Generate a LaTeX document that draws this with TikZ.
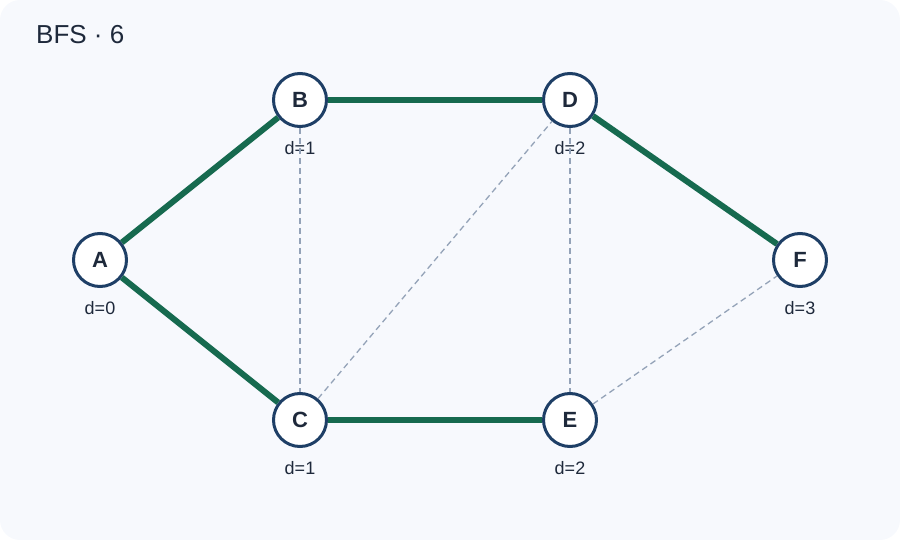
\documentclass[tikz,border=0pt]{standalone}
\usepackage{fontspec}
\setmainfont{Liberation Sans}
\definecolor{bgcol}{HTML}{F7F9FD}
\definecolor{ringcol}{HTML}{1E3F66}
\definecolor{inkcol}{HTML}{1E293B}
\definecolor{treecol}{HTML}{166A4F}
\definecolor{graycol}{HTML}{94A3B8}
\begin{document}
\begin{tikzpicture}[x=1pt,y=-1pt,
    vertex/.style={draw=ringcol, line width=3pt, fill=white, circle, minimum size=53pt, inner sep=0pt, text=inkcol, font=\fontsize{22}{26}\selectfont\bfseries},
    dlabel/.style={font=\fontsize{18}{21}\selectfont, text=inkcol, inner sep=0pt, label distance=13pt},
    treeedge/.style={draw=treecol, line width=6pt},
    otheredge/.style={draw=graycol, line width=1.3pt, dash pattern=on 6pt off 4pt}]
        \useasboundingbox (0,0) rectangle (900,540);
        \path[fill=bgcol, rounded corners=20pt] (0,0) rectangle (900,540);
        \node[anchor=base west, inner sep=0pt, text=inkcol, font=\fontsize{26}{30}\selectfont] (title) at (36,44) {BFS · 6};

        \node[vertex, label={[dlabel]below:d=0}] (A) at (100,260) {A};
        \node[vertex, label={[dlabel]below:d=1}] (B) at (300,100) {B};
        \node[vertex, label={[dlabel]below:d=1}] (C) at (300,420) {C};
        \node[vertex, label={[dlabel]below:d=2}] (D) at (570,100) {D};
        \node[vertex, label={[dlabel]below:d=2}] (E) at (570,420) {E};
        \node[vertex, label={[dlabel]below:d=3}] (F) at (800,260) {F};

        \path[otheredge] (B) -- (C);
        \path[otheredge] (C) -- (D);
        \path[otheredge] (D) -- (E);
        \path[otheredge] (E) -- (F);

        \path[treeedge] (A) -- (B);
        \path[treeedge] (A) -- (C);
        \path[treeedge] (B) -- (D);
        \path[treeedge] (C) -- (E);
        \path[treeedge] (D) -- (F);
    \end{tikzpicture}
\end{document}
